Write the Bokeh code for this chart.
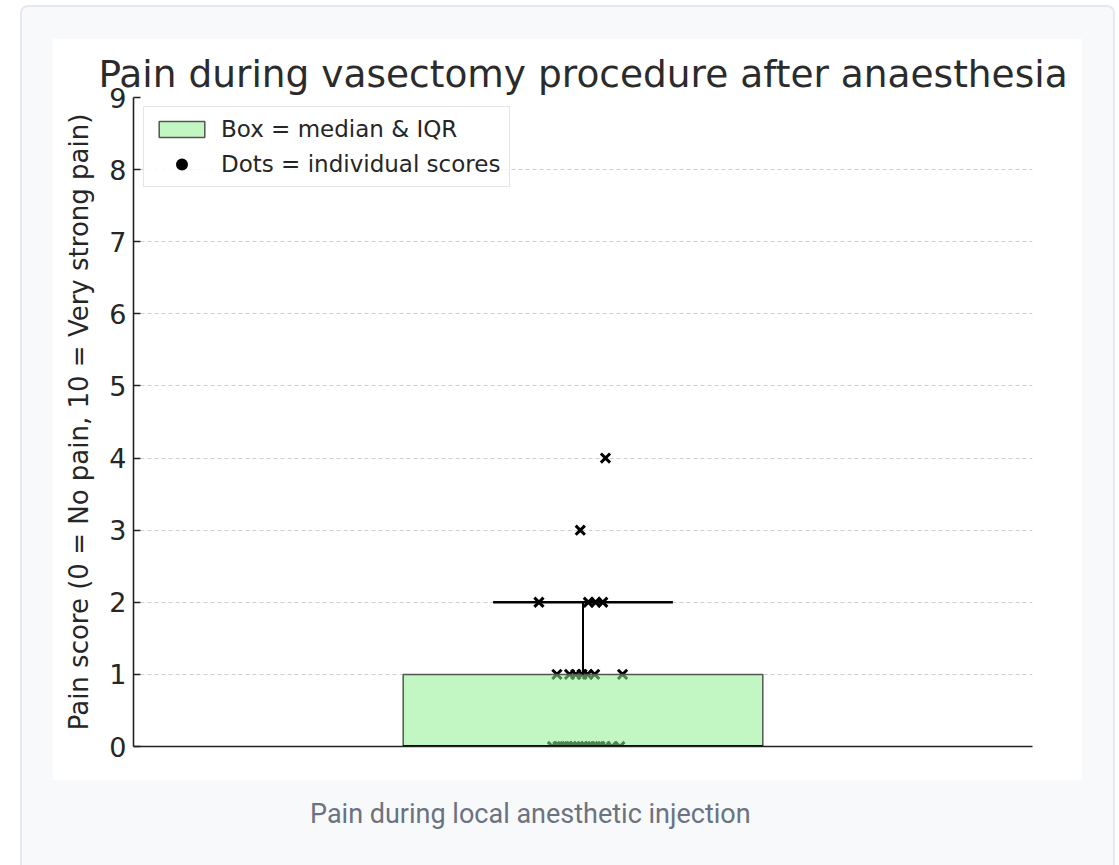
import numpy as np
from bokeh.plotting import figure
from bokeh.models import (Legend, LegendItem, FixedTicker, Div, ColumnDataSource, Title)
from bokeh.layouts import column
from bokeh.embed import file_html
from bokeh.resources import INLINE

# ---- data ----
scores_0 = [0] * 15
jitter_0 = [0.966, 0.972, 0.977, 0.982, 0.987, 0.991, 0.995, 0.999,
            1.003, 1.008, 1.014, 1.019, 1.025, 1.032, 1.041]
scores_1 = [1] * 7
jitter_1 = [0.971, 0.985, 0.992, 0.999, 1.005, 1.013, 1.044]
scores_2 = [2] * 4
jitter_2 = [0.951, 1.006, 1.014, 1.022]
scores_3 = [3]
jitter_3 = [0.997]
scores_4 = [4]
jitter_4 = [1.025]

scores = scores_0 + scores_1 + scores_2 + scores_3 + scores_4
jitter = jitter_0 + jitter_1 + jitter_2 + jitter_3 + jitter_4

category_pos = 1.0
box_width = 0.4
y_ticks = list(range(0, 10))

title_text = "Pain during vasectomy procedure after anaesthesia"
ylabel_text = "Pain score (0 = No pain, 10 = Very strong pain)"
caption_text = "Pain during local anesthetic injection"
legend_box = "Box = median & IQR"
legend_dots = "Dots = individual scores"

# ---- box statistics ----
arr = np.array(scores, dtype=float)
q1, med, q3 = np.percentile(arr, [25, 50, 75])
iqr = q3 - q1
whi = arr[arr <= q3 + 1.5 * iqr].max()
wlo = arr[arr >= q1 - 1.5 * iqr].min()

FONT = "DejaVu Sans"

p = figure(width=1030, height=742, x_range=(0.5, 1.5), y_range=(0, 9),
           output_backend="svg", toolbar_location=None,
           min_border_left=81, min_border_right=50, min_border_top=59,
           min_border_bottom=34, background_fill_color="white",
           border_fill_color="white", outline_line_color=None,
           margin=(31, 0, 0, 30))

p.add_layout(Title(text=title_text, align="center", text_font=FONT,
                   text_font_size="37.5px", text_font_style="normal",
                   text_color="#2b2b2b", standoff=3), "above")

# points first (box fill drawn over them)
src = ColumnDataSource(dict(x=jitter, y=scores))
p.scatter("x", "y", source=src, marker="x", size=13, line_color="black",
          line_width=3)

left = category_pos - box_width / 2
right = category_pos + box_width / 2
box_r = p.quad(left=[left], right=[right], bottom=[q1], top=[q3],
               fill_color="#90ee90", fill_alpha=0.55,
               line_color="#555555", line_width=1.5)
# whiskers
p.segment(x0=[category_pos, category_pos], y0=[q3, q1],
          x1=[category_pos, category_pos], y1=[whi, wlo],
          line_color="black", line_width=2)
p.segment(x0=[category_pos - box_width / 4] * 2, y0=[whi, wlo],
          x1=[category_pos + box_width / 4] * 2, y1=[whi, wlo],
          line_color="black", line_width=2.5)
# median
p.segment(x0=[left], y0=[med], x1=[right], y1=[med],
          line_color="black", line_width=3)

# legend-only renderer (NaN point, never drawn in the plot)
dummy = p.scatter(x=[np.nan], y=[np.nan], marker="circle", size=8,
                  fill_color="black", line_color="black", line_width=4)

# axes
p.xaxis.ticker = FixedTicker(ticks=[])
p.xaxis.major_label_text_font_size = "0px"
p.xaxis.major_tick_in = 0
p.xaxis.major_tick_out = 0
p.xaxis.minor_tick_in = 0
p.xaxis.minor_tick_out = 0
p.xaxis.axis_line_color = "#222222"
p.xaxis.axis_line_width = 1.6
p.xgrid.visible = False

p.yaxis.ticker = FixedTicker(ticks=y_ticks)
p.yaxis.major_label_text_font = FONT
p.yaxis.major_label_text_font_size = "27px"
p.yaxis.major_label_text_color = "#262626"
p.yaxis.major_label_standoff = 7
p.yaxis.major_tick_in = 7
p.yaxis.major_tick_out = 0
p.yaxis.major_tick_line_width = 1.5
p.yaxis.major_tick_line_color = "#222222"
p.yaxis.minor_tick_in = 0
p.yaxis.minor_tick_out = 0
p.yaxis.axis_line_color = "#222222"
p.yaxis.axis_line_width = 1.6
p.yaxis.axis_label = ylabel_text
p.yaxis.axis_label_text_font = FONT
p.yaxis.axis_label_text_font_size = "26px"
p.yaxis.axis_label_text_font_style = "normal"
p.yaxis.axis_label_text_color = "#262626"
p.yaxis.axis_label_standoff = 12

p.ygrid.ticker = FixedTicker(ticks=y_ticks)
p.ygrid.grid_line_color = "#bbbbbb"
p.ygrid.grid_line_alpha = 0.7
p.ygrid.grid_line_dash = "4 3"
p.ygrid.grid_line_width = 1

legend = Legend(items=[LegendItem(label=legend_box, renderers=[box_r]),
                       LegendItem(label=legend_dots, renderers=[dummy])],
                location=(10, 559), orientation="vertical",
                label_text_font=FONT, label_text_font_size="23px",
                label_text_color="#262626", glyph_width=57, glyph_height=20,
                label_standoff=11, padding=9, spacing=9, margin=0,
                border_line_color="#cccccc", border_line_width=1.5,
                background_fill_alpha=0.85)
p.add_layout(legend)

cap = Div(text=caption_text, width=700, height=32, margin=(18, 0, 0, 288),
          styles={"font-family": "Roboto", "font-size": "27px",
                  "line-height": "32px", "color": "#6b7280",
                  "white-space": "nowrap"})

card = column(p, cap, width=1095, height=880, margin=(5, 0, 0, 20),
              styles={"background-color": "#f8f9fb",
                      "border": "2px solid #e6e8eb",
                      "border-radius": "8px"})

open("out.html", "w").write(file_html(card, INLINE))
